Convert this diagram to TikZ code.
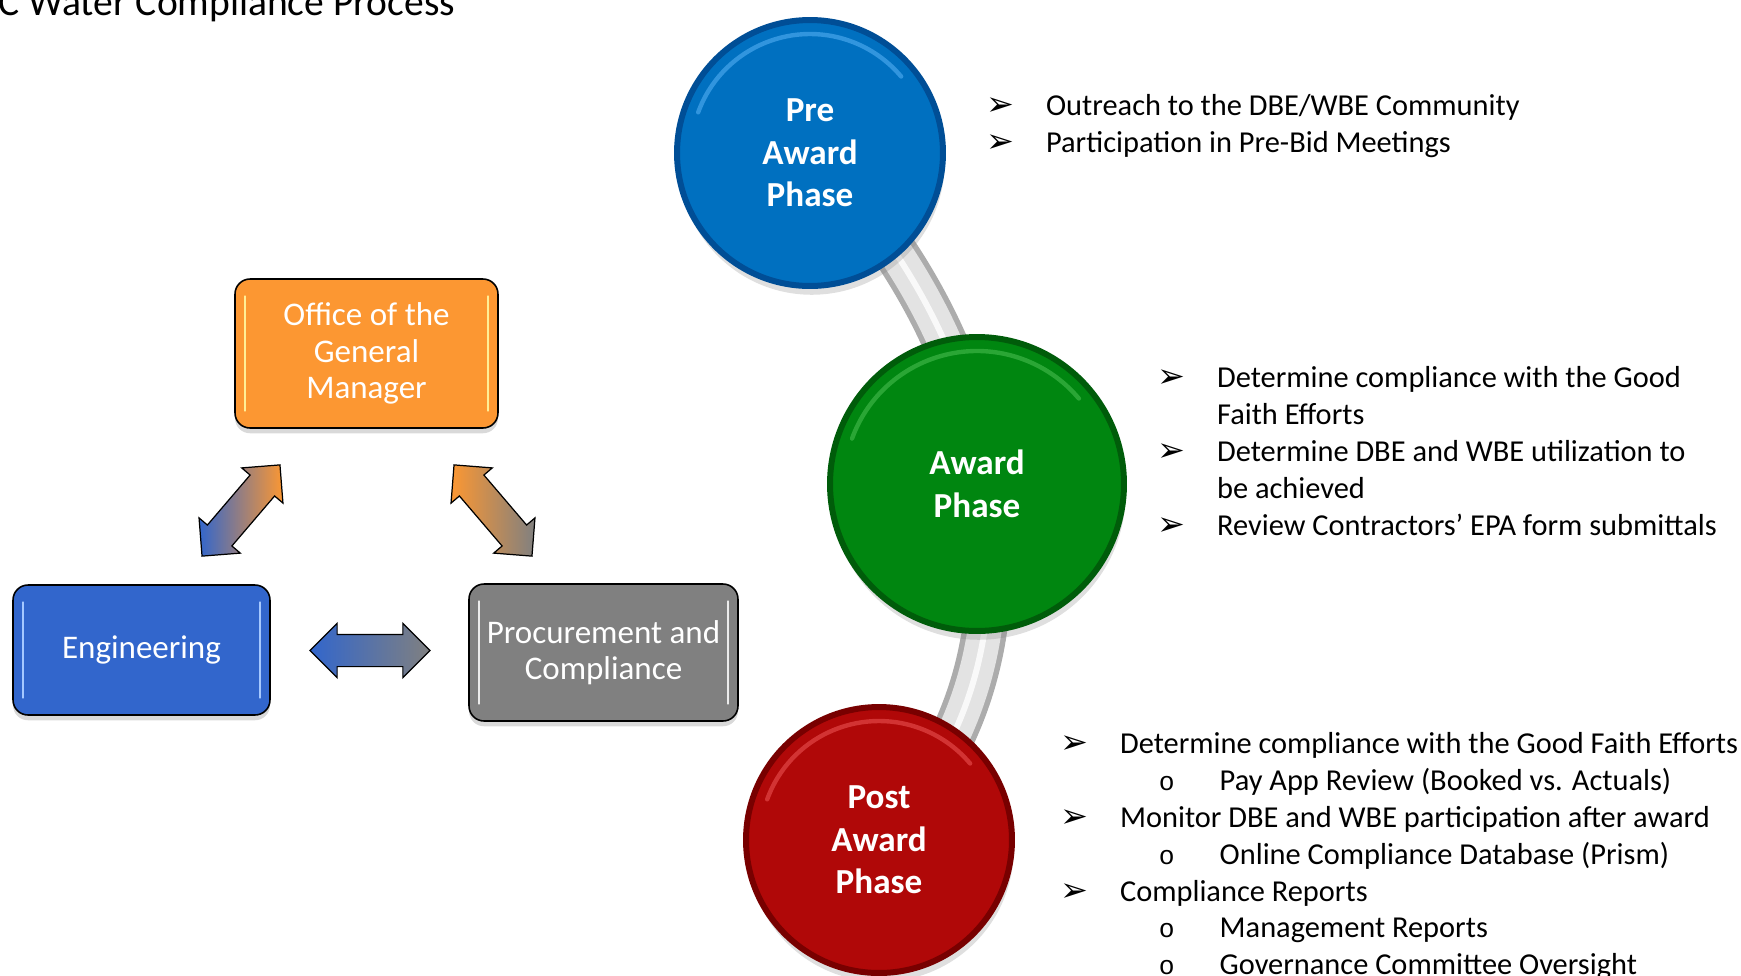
\documentclass[tikz,border=0pt]{standalone}
\usepackage{fontspec}
\setmainfont{Carlito}
\newfontfamily\symfont{DejaVu Sans}
\newfontfamily\subfont{Liberation Mono}
\usetikzlibrary{calc,shapes.arrows,shadows,backgrounds}

\newcommand{\bul}{\makebox[34pt][l]{\fontsize{19}{19}\symfont ➢}}
\newcommand{\cont}{\hspace*{34pt}}
\newcommand{\subbul}{\hspace*{56pt}\makebox[34.7pt][l]{\fontsize{15}{15}\subfont o}}

\begin{document}
\begin{tikzpicture} [x=0.02cm, y=0.02cm,
    phase/.style={circle, fill=#1fill, draw=#1rim, line width=0.12cm, text=white, align=center, inner sep=0pt,
        font=\fontsize{20}{24.2}\selectfont\bfseries,
        drop shadow={opacity=0.25, shadow xshift=1pt, shadow yshift=-5pt},
        path picture={\draw[#1hl, line width=2.5pt, line cap=round, opacity=0.7] let \p1=($(path picture bounding box.north)-(path picture bounding box.center)$), \n1={\y1-0.28cm} in ($(path picture bounding box.center)+(160:\n1)$) arc[start angle=160, end angle=40, radius=\n1];}},
    box/.style={rounded corners=0.3cm, draw=black, line width=0.9pt, fill=#1fill, text=white, align=center, inner sep=2pt,
        font=\fontsize{18.8}{20.8}\selectfont,
        drop shadow={opacity=0.3, shadow xshift=0pt, shadow yshift=-3pt},
        path picture={\draw[#1hl, line width=1.6pt, line cap=round]
            ([shift={(0.2cm,-0.35cm)}]path picture bounding box.north west) -- ([shift={(0.2cm,0.35cm)}]path picture bounding box.south west)
            ([shift={(-0.2cm,-0.35cm)}]path picture bounding box.north east) -- ([shift={(-0.2cm,0.35cm)}]path picture bounding box.south east);}},
    dblarrow/.style={double arrow, draw=black, line width=0.7pt, minimum height=2.4cm, inner xsep=0pt, inner ysep=0.31cm, double arrow head extend=0.22cm},
    bullets/.style={align=left, anchor=north west, inner sep=0pt, font=\fontsize{17.3}{21}\selectfont},
    tube/.style={line width=0.9cm, draw=gray!65},
    tubecore/.style={line width=0.68cm, draw=gray!22},
    tubeshine/.style={line width=0.12cm, draw=white, opacity=0.8}
  ]

\definecolor{prefill}{RGB}{0,112,192}
\definecolor{prerim}{RGB}{0,78,150}
\definecolor{prehl}{RGB}{70,165,235}
\definecolor{awardfill}{RGB}{0,134,16}
\definecolor{awardrim}{RGB}{0,92,10}
\definecolor{awardhl}{RGB}{60,180,70}
\definecolor{postfill}{RGB}{176,8,8}
\definecolor{postrim}{RGB}{120,0,0}
\definecolor{posthl}{RGB}{225,70,70}
\definecolor{gmfill}{RGB}{252,151,50}
\definecolor{gmhl}{RGB}{255,238,150}
\definecolor{engfill}{RGB}{50,102,204}
\definecolor{enghl}{RGB}{165,200,255}
\definecolor{procfill}{RGB}{128,128,128}
\definecolor{prochl}{RGB}{235,235,235}

\path[use as bounding box] (0,0) rectangle (1741,-975);

% title
\node[anchor=base west, inner sep=0pt, font=\fontsize{22.5}{27}\selectfont] (title) at (-2,-15) {C Water Compliance Process};

% boxes
\node[box=gm, minimum width=5.26cm, minimum height=2.98cm] (gm) at (366.5,-353.5) {Office of the\\General\\Manager};
\node[box=eng, minimum width=5.14cm, minimum height=2.6cm] (eng) at (141.5,-650) {Engineering};
\node[box=proc, minimum width=5.38cm, minimum height=2.74cm] (proc) at (603.5,-652.5) {Procurement and\\Compliance};

% double arrows
\node[dblarrow, rotate=49.5, left color=engfill, middle color={rgb,255:red,200;green,125;blue,150}, right color=gmfill] (gmeng) at (241,-510.5) {};
\node[dblarrow, rotate=-49.5, left color=gmfill, right color=procfill] (gmproc) at (493,-510.5) {};
\node[dblarrow, left color=engfill, right color=procfill] (engproc) at (370,-650.5) {};

% phases
\node[phase=pre, minimum size=5.32cm] (pre) at (810,-153) {Pre\\Award\\Phase};
\node[phase=award, minimum size=5.88cm] (award) at (977,-484) {Award\\Phase};
\node[phase=post, minimum size=5.32cm] (post) at (879,-840) {Post\\Award\\Phase};

% tube behind the phases
\begin{scope}[on background layer]
\draw[tube] (pre.center) .. controls (890,-220) and (985,-380) .. (award.center) .. controls (1000,-560) and (1000,-720) .. (post.center);
\draw[tubecore] (pre.center) .. controls (890,-220) and (985,-380) .. (award.center) .. controls (1000,-560) and (1000,-720) .. (post.center);
\draw[tubeshine] (pre.center) .. controls (890,-220) and (985,-380) .. (award.center) .. controls (1000,-560) and (1000,-720) .. (post.center);
\end{scope}

% bullet lists
\node[bullets] (prelist) at (986,-94) {\bul Outreach to the DBE/WBE Community\\
\bul Participation in Pre-Bid Meetings};

\node[bullets] (awardlist) at (1157,-366) {\bul Determine compliance with the Good\\
\cont Faith Efforts\\
\bul Determine DBE and WBE utilization to\\
\cont be achieved\\
\bul Review Contractors’ EPA form submittals};

\node[bullets] (postlist) at (1060,-732) {\bul Determine compliance with the Good Faith Efforts\\
\subbul Pay App Review (Booked vs. Actuals)\\
\bul Monitor DBE and WBE participation after award\\
\subbul Online Compliance Database (Prism)\\
\bul Compliance Reports\\
\subbul Management Reports\\
\subbul Governance Committee Oversight};

\end{tikzpicture}
\end{document}
